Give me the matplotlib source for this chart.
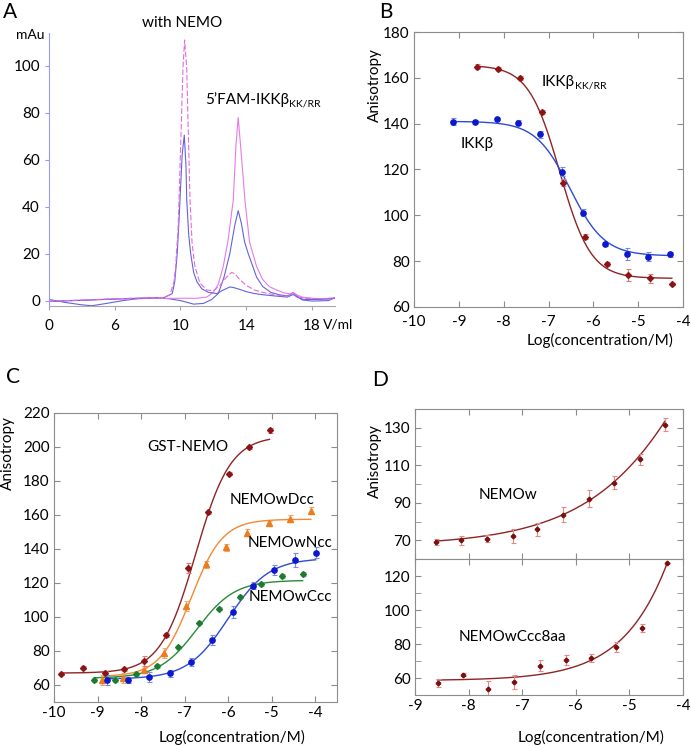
import numpy as np
import matplotlib.pyplot as plt

plt.rcParams['font.family'] = ['Lato', 'Open Sans', 'DejaVu Sans']
plt.rcParams['axes.unicode_minus'] = False

# ---------------- A: gel filtration traces (V/ml, mAu) ----------------
nemo_dash_v = [2.0, 3, 4, 5, 6, 7, 8, 9.0, 9.36, 9.6, 9.71, 9.75, 9.85, 9.91, 10.05, 10.15, 10.25,
               10.38, 10.48, 10.58, 10.7, 10.78, 10.88, 11.18, 11.6, 12.0, 12.4, 12.8, 13.1, 13.3,
               13.6, 14.0, 14.5, 15.0, 15.5, 16.0, 16.5, 16.75, 16.86, 17.0, 17.2, 17.6, 18.5, 19.4]
nemo_dash_mau = [-0.3, 0, 0.2, 0.5, 0.8, 1.0, 1.2, 1.3, 2.5, 8, 14.5, 20, 30, 42.8, 75, 99, 111,
                 99, 70, 43, 25, 20, 14.5, 7.5, 4.5, 4.2, 6.5, 10, 12, 11.5,
                 9, 6.5, 4.5, 3.5, 2.8, 2.2, 1.8, 2.6, 3.2, 2.5, 1.5, 1.0, 0.8, 1.2]

nemo_blue_v = [2.0, 3, 4, 5, 6, 7, 8, 9.0, 9.5, 9.65, 9.8, 9.9, 9.97, 10.1, 10.23, 10.33, 10.38,
               10.5, 10.62, 10.8, 11.0, 11.3, 11.7, 12.2, 12.6, 13.0, 13.2, 13.6, 14.0, 14.5,
               15.0, 16.0, 16.5, 16.86, 17.1, 17.5, 18.5, 19.4]
nemo_blue_mau = [-0.4, -0.1, 0.1, 0.4, 0.7, 0.9, 1.1, 1.3, 3, 8, 20, 33, 43, 62, 70.5, 58, 43,
                 28, 20, 12, 8, 5, 3.5, 3.0, 4.5, 5.8, 5.6, 4.8, 3.8, 3.0,
                 2.5, 1.8, 1.5, 2.6, 1.5, 0.5, 0.5, 1.0]

free_pink_v = [2.0, 4, 6, 8, 10, 11, 11.6, 12.0, 12.3, 12.6, 12.9, 13.21, 13.37, 13.51, 13.66,
               13.92, 14.2, 14.63, 15.0, 15.4, 15.85, 16.3, 16.65, 16.86, 17.05, 17.4, 18, 19, 19.4]
free_pink_mau = [-0.3, 0.2, 0.6, 0.9, 1.0, 1.0, 1.5, 3.5, 7, 14.5, 26, 42.8, 65.6, 78, 65.6,
                 42.8, 25, 14.5, 9, 6, 4.5, 3.3, 2.8, 3.5, 2.5, 1.5, 1.0, 0.6, 1.0]

free_blue_v = [2.0, 3, 4, 4.6, 5.5, 6.5, 7.6, 8.5, 9.3, 10, 10.8, 11.4, 11.9, 12.3, 12.65, 13.0,
               13.3, 13.51, 13.7, 13.9, 14.12, 14.63, 15.0, 15.5, 16.0, 16.5, 16.86, 17.1, 17.4,
               18, 19, 19.4]
free_blue_mau = [0.5, -0.8, -1.8, -2.2, -1.2, 0, 1.0, 1.1, 0.8, 0, -1.5, -1.2, 0.5, 3, 10, 20,
                 32, 38.3, 33, 25, 20, 10, 6, 3.5, 2.5, 2, 3.3, 1.8, 0.3, -0.2, 0, 1.2]

# ---------------- B: competition with IKKb peptides ----------------
b_ikkb_x = [-9.13, -8.64, -8.15, -7.68, -7.18, -6.70, -6.23, -5.74, -5.25, -4.77, -4.28]
b_ikkb_y = [140.9, 140.9, 142.0, 140.5, 135.3, 119.0, 101.2, 87.5, 83.1, 82.0, 83.0]
b_ikkb_err = [1.5, 0.5, 0.5, 1, 1.5, 2, 1.5, 1, 2.5, 2, 1]
b_kkrr_x = [-8.59, -8.12, -7.64, -7.14, -6.67, -6.19, -5.70, -5.22, -4.73, -4.25]
b_kkrr_y = [164.9, 163.8, 159.9, 145.0, 114.3, 90.7, 78.8, 74.0, 72.5, 70.0]
b_kkrr_err = [1, 1, 1, 1, 1.5, 1, 1, 2.5, 2, 0.5]
# fit: bottom, top, logEC50, hill
b_ikkb_fit = (82.3, 141.0, -6.52, -1.13)
b_kkrr_fit = (72.5, 165.5, -6.75, -1.25)

# ---------------- C: NEMO constructs ----------------
c_gst_x = [-9.83, -9.34, -8.84, -8.39, -7.93, -7.42, -6.92, -6.46, -5.98, -5.53, -5.05]
c_gst_y = [66.5, 70.2, 67.3, 69.2, 74.3, 89.4, 128.7, 161.5, 184.3, 199.8, 209.8]
c_gst_err = [0.8, 1, 0.8, 1, 3, 1, 3, 1, 1, 1, 1.5]
c_dcc_x = [-8.90, -8.42, -7.93, -7.48, -6.97, -6.51, -6.04, -5.57, -5.07, -4.58, -4.10]
c_dcc_y = [63.0, 64.0, 68.8, 78.6, 106.5, 131.1, 141.1, 149.7, 155.2, 157.8, 162.5]
c_dcc_err = [3, 3, 1, 3, 3, 2, 2, 2, 1, 2, 2]
c_ncc_x = [-8.78, -8.29, -7.81, -7.34, -6.85, -6.37, -5.90, -5.43, -4.95, -4.47, -3.99]
c_ncc_y = [62.9, 62.9, 64.9, 66.9, 73.4, 86.5, 103.2, 118.3, 127.7, 133.6, 137.9]
c_ncc_err = [3, 2, 3, 2, 2.5, 3, 3.5, 2, 3, 4, 3]
c_ccc_x = [-9.07, -8.59, -8.12, -7.63, -7.15, -6.68, -6.20, -5.72, -5.24, -4.76, -4.29]
c_ccc_y = [63.0, 63.0, 66.5, 71.2, 82.2, 96.7, 104.9, 112.0, 119.5, 124.2, 125.4]
c_ccc_err = [1, 1, 1, 1, 1, 1, 1, 1, 1, 1, 1]
c_gst_fit = (67.0, 206.5, -6.75, 1.08)
c_dcc_fit = (65.0, 157.5, -6.85, 1.2)
c_ncc_fit = (63.5, 134.6, -6.0, 0.93)
c_ccc_fit = (64.0, 121.6, -6.72, 1.0)

# ---------------- D: NEMOw and NEMOwCcc8aa ----------------
d_w_x = [-8.61, -8.14, -7.66, -7.17, -6.72, -6.23, -5.76, -5.29, -4.81, -4.34]
d_w_y = [69.1, 70.0, 70.9, 72.3, 75.9, 83.7, 92.2, 100.7, 113.1, 131.6]
d_w_err = [1.5, 2.5, 2, 3.5, 3.5, 4, 4.5, 3.5, 3, 3.5]
d_c8_x = [-8.58, -8.10, -7.63, -7.15, -6.67, -6.19, -5.72, -5.25, -4.77, -4.29]
d_c8_y = [57.1, 62.0, 53.5, 57.7, 67.3, 70.4, 71.8, 78.3, 89.3, 127.9]
d_c8_err = [2.5, 1, 5, 4, 3, 3, 2.5, 3, 2.5, 0]
d_w_fit = (67.0, 448.0, -2.41, 0.35)
d_c8_fit = (58.5, 1391.5, -2.0, 0.55)


def logistic(x, bottom, top, logec50, hill):
    return bottom + (top - bottom) / (1 + 10 ** ((logec50 - x) * hill))


def fit_line(ax, xs, params, color):
    xx = np.linspace(min(xs), max(xs), 300)
    ax.plot(xx, logistic(xx, *params), color=color, lw=1.0, zorder=2)


def points(ax, x, y, err, color, ecolor, marker, ms):
    ax.errorbar(x, y, yerr=err, fmt='none', ecolor=ecolor, elinewidth=0.8, capsize=1.8,
                capthick=0.8, zorder=3)
    ax.plot(x, y, ls='none', marker=marker, ms=ms, color=color, mec=color, zorder=4)


def box_style(ax):
    for s in ax.spines.values():
        s.set_color('#8c8c8c')
        s.set_linewidth(0.8)
    ax.tick_params(which='both', direction='in', top=True, right=True, length=4,
                   color='#8c8c8c', labelsize=11, pad=3)


W, H = 691, 746
fig = plt.figure(figsize=(W / 100, H / 100), dpi=100)


def frame(l, t, r, b):
    return fig.add_axes([l / W, 1 - b / H, (r - l) / W, (b - t) / H])


def ftext(x, y, s, **kw):
    return fig.text(x / W, 1 - y / H, s, **kw)


def subscript(ax, t, s):
    ax.annotate(s, xy=(1.0, 0.22), xycoords=t, va='center', ha='left', fontsize=7.5)


pink = '#e77be6'
pink_dash = '#e46be0'
violet = '#6363dc'
dred, dred_l = '#8b1414', '#e07a7a'
blue, blue_l = '#0b18cc', '#7d87e6'
orange, orange_l = '#ef7b1f', '#f2a66a'
green = '#1d7a30'

# ---- A ----
axA = frame(49, 33, 335, 306)
axA.plot(free_blue_v, free_blue_mau, color=violet, lw=0.8)
axA.plot(free_pink_v, free_pink_mau, color=pink, lw=0.8)
axA.plot(nemo_blue_v, nemo_blue_mau, color=violet, lw=0.8)
axA.plot(nemo_dash_v, nemo_dash_mau, color=pink_dash, lw=0.8, ls=(0, (5, 2)))
axA.set_xlim(2.0, 19.4)
axA.set_ylim(-2.3, 114)
axA.spines['top'].set_visible(False)
axA.spines['right'].set_visible(False)
axA.spines['left'].set_color('#9a9af0')
axA.spines['bottom'].set_color('#a8a8a8')
axA.set_xticks([2, 6, 10, 14, 18], ['0', '6', '10', '14', '18'])
axA.set_yticks(range(0, 101, 20))
axA.tick_params(axis='x', length=3, color='#a8a8a8', labelsize=11, pad=6)
axA.tick_params(axis='y', length=3, color='#9a9af0', labelsize=11)
ftext(182, 23, 'with NEMO', ha='center', va='center', fontsize=11)
ftext(30, 35, 'mAu', ha='center', va='center', fontsize=10)
ftext(323, 324, 'V/ml', ha='left', va='center', fontsize=10)
t = ftext(205, 100, '5’FAM-IKKβ', ha='left', va='center', fontsize=11)
subscript(axA, t, 'KK/RR')

# ---- B ----
axB = frame(414, 32, 683, 307)
fit_line(axB, b_kkrr_x, b_kkrr_fit, '#8e2424')
fit_line(axB, b_ikkb_x, b_ikkb_fit, '#2c4ad8')
points(axB, b_kkrr_x, b_kkrr_y, b_kkrr_err, dred, dred_l, 'D', 3)
points(axB, b_ikkb_x, b_ikkb_y, b_ikkb_err, blue, blue_l, 'o', 3.8)
axB.set_xlim(-10, -4)
axB.set_ylim(60, 180)
axB.set_xticks(range(-10, -3))
axB.set_yticks(range(60, 181, 20))
box_style(axB)
axB.tick_params(axis='x', pad=6)
t = ftext(542, 82, 'IKKβ', ha='left', va='center', fontsize=11)
subscript(axB, t, 'KK/RR')
ftext(477, 144, 'IKKβ', ha='center', va='center', fontsize=11)

# ---- C ----
axC = frame(54, 413, 337, 702)
fit_line(axC, c_gst_x, c_gst_fit, '#8e2424')
fit_line(axC, c_dcc_x, c_dcc_fit, '#f08a35')
fit_line(axC, c_ccc_x, c_ccc_fit, '#2a8a3c')
fit_line(axC, c_ncc_x, c_ncc_fit, '#2c4ad8')
points(axC, c_gst_x, c_gst_y, c_gst_err, dred, dred_l, 'D', 3)
points(axC, c_dcc_x, c_dcc_y, c_dcc_err, orange, orange_l, '^', 3.8)
points(axC, c_ccc_x, c_ccc_y, c_ccc_err, green, '#7fbf8a', 'D', 3)
points(axC, c_ncc_x, c_ncc_y, c_ncc_err, blue, blue_l, 'o', 3.8)
axC.set_xlim(-10, -3.5)
axC.set_ylim(50, 220)
axC.set_xticks(range(-10, -3))
axC.set_yticks(range(60, 221, 20))
box_style(axC)
ftext(188, 447, 'GST-NEMO', ha='center', va='center', fontsize=11)
ftext(272, 500, 'NEMOwDcc', ha='center', va='center', fontsize=11)
ftext(290, 543, 'NEMOwNcc', ha='center', va='center', fontsize=11)
ftext(290, 597, 'NEMOwCcc', ha='center', va='center', fontsize=11)

# ---- D ----
axD1 = frame(415, 409, 683, 559)
axD2 = frame(415, 559, 683, 695)
for ax, xs, ys, es, prm in [(axD1, d_w_x, d_w_y, d_w_err, d_w_fit),
                            (axD2, d_c8_x, d_c8_y, d_c8_err, d_c8_fit)]:
    fit_line(ax, xs, prm, '#8e2424')
    points(ax, xs, ys, es, '#7a0f0f', '#e88888', 'P', 3)
    ax.set_xlim(-9, -4)
    ax.set_xticks(range(-9, -3))
    box_style(ax)
axD1.set_ylim(60, 140)
axD1.set_yticks(range(70, 131, 20))
axD1.set_yticks(range(60, 141, 20), minor=True)
axD1.tick_params(labelbottom=False)
axD2.set_ylim(50, 130)
axD2.set_yticks(range(60, 121, 20))
axD2.set_yticks(range(50, 131, 20), minor=True)
ftext(508, 495, 'NEMOw', ha='center', va='center', fontsize=11)
ftext(512, 637, 'NEMOwCcc8aa', ha='center', va='center', fontsize=11)

# ---- shared labels ----
for x, y in [(375, 85), (8, 453), (375, 461)]:
    ftext(x, y, 'Anisotropy', rotation=90, ha='center', va='center', fontsize=11)
for x, y in [(600, 340), (232, 737), (591, 737)]:
    ftext(x, y, 'Log(concentration/M)', ha='center', va='center', fontsize=11)
for x, y, s in [(10, 12, 'A'), (386, 12, 'B'), (13, 377, 'C'), (380, 380, 'D')]:
    ftext(x, y, s, ha='center', va='center', fontsize=15)

fig.savefig('out.png', dpi=100)
